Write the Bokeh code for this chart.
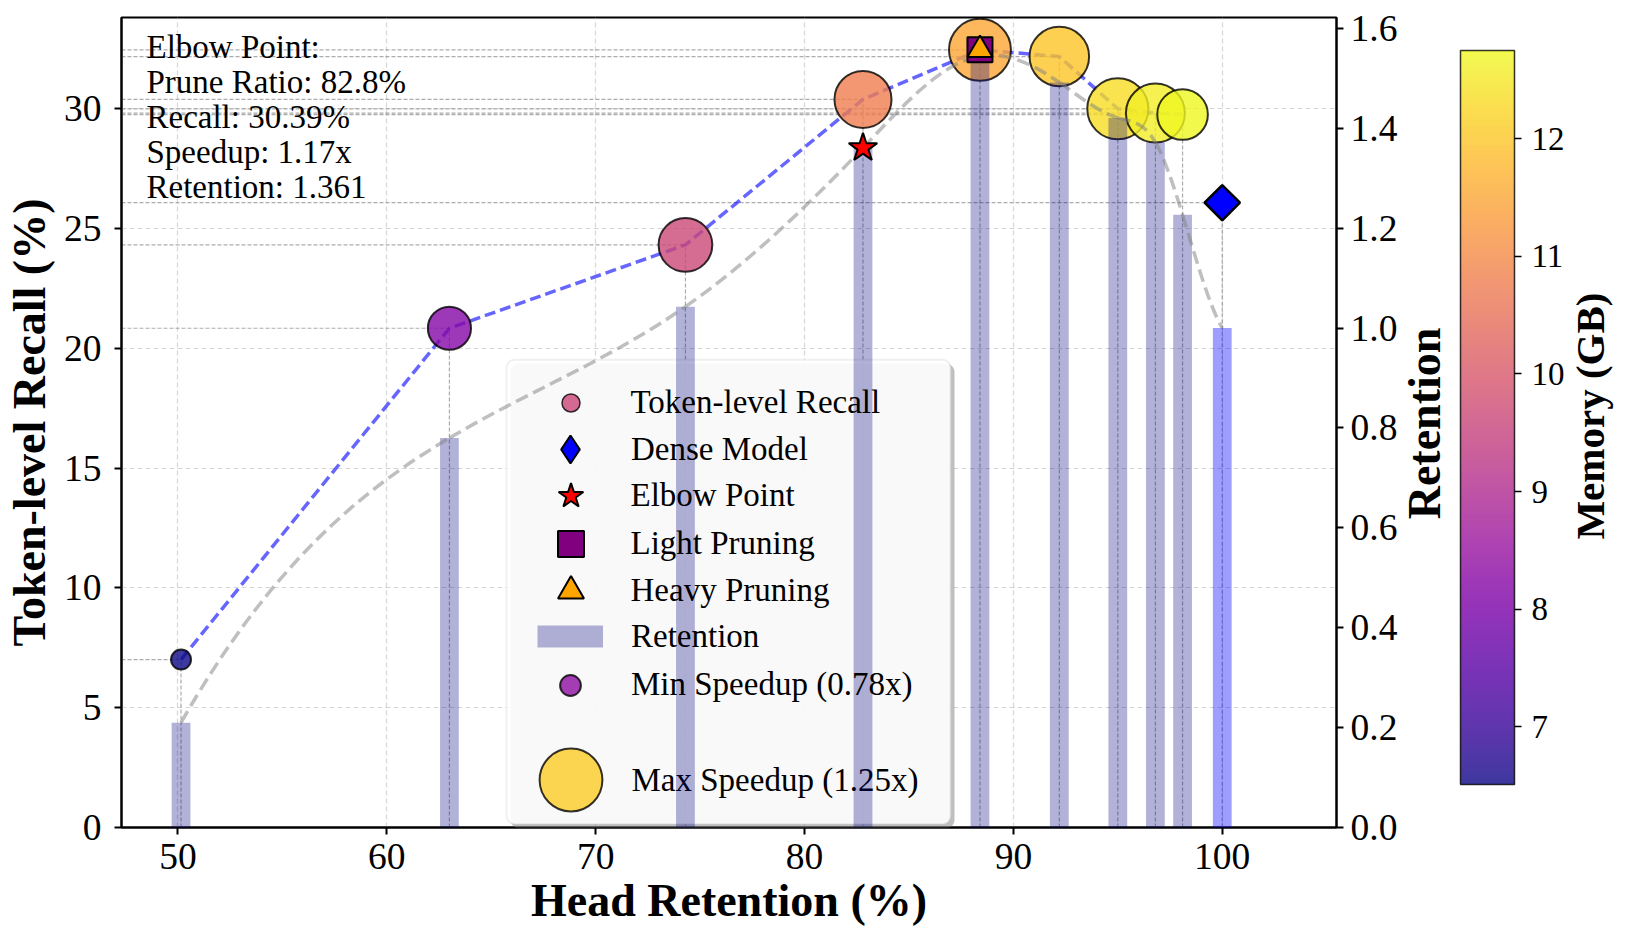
import numpy as np
from bokeh.plotting import figure
from bokeh.models import (Range1d, LinearAxis, FixedTicker, PrintfTickFormatter, Legend,
                          LegendItem, BoxAnnotation, Label, LinearColorMapper, ColorBar,
                          ColumnDataSource)
from bokeh.palettes import Plasma256
from bokeh.layouts import row
from bokeh.embed import file_html
from bokeh.resources import INLINE

# ---------------- data ----------------
head_retention = [50.15, 63.0, 74.3, 82.8, 88.4, 92.2, 95.0, 96.8, 98.1]
token_recall = [7.01, 20.84, 24.32, 30.39, 32.46, 32.18, 30.0, 29.82, 29.76]
retention = [0.210, 0.780, 1.043, 1.361, 1.545, 1.492, 1.421, 1.372, 1.227]
speedup = [0.78, 0.98, 1.12, 1.17, 1.25, 1.21, 1.235, 1.20, 1.075]
memory_gb = [6.51, 8.20, 9.65, 10.76, 11.49, 11.98, 12.35, 12.58, 12.75]
dense_head = [100.0]
dense_recall = [26.08]
dense_retention = [1.0]
elbow_idx = 3
light_idx = 4
heavy_idx = 4

x_ticks = [50, 60, 70, 80, 90, 100]
recall_ticks = [0, 5, 10, 15, 20, 25, 30]
retention_ticks = [0.0, 0.2, 0.4, 0.6, 0.8, 1.0, 1.2, 1.4, 1.6]
memory_ticks = [7, 8, 9, 10, 11, 12]

# ---------------- styling constants ----------------
FONT = "Liberation Serif"
XMIN, XMAX = 47.3, 105.47
YMAX = 33.81
RMAX = 1.622
MEM_MIN, MEM_MAX = min(memory_gb), max(memory_gb)
SIZE_MIN, SIZE_MAX = 20.0, 62.0
RIGHT_BORDER = 62

mapper = LinearColorMapper(palette=Plasma256, low=MEM_MIN, high=MEM_MAX)

sp = np.array(speedup)
frac = (sp - sp.min()) / (sp.max() - sp.min())
sizes = np.sqrt(SIZE_MIN ** 2 + frac * (SIZE_MAX ** 2 - SIZE_MIN ** 2))
i_min = int(np.argmin(sp))
i_max = int(np.argmax(sp))

p = figure(frame_width=1215, frame_height=810, title=None,
           x_range=Range1d(XMIN, XMAX), y_range=Range1d(0, YMAX),
           output_backend="svg", toolbar_location=None,
           min_border_left=112, min_border_right=RIGHT_BORDER, min_border_top=17,
           min_border_bottom=106,
           background_fill_color="white", border_fill_color="white")
p.extra_y_ranges = {"ret": Range1d(0, RMAX)}

# outline / grid
p.outline_line_color = "black"
p.outline_line_width = 2
p.xgrid.ticker = FixedTicker(ticks=x_ticks)
p.ygrid.ticker = FixedTicker(ticks=recall_ticks)
p.grid.grid_line_color = "#b0b0b0"
p.grid.grid_line_alpha = 0.5
p.grid.grid_line_dash = "5 3"
p.grid.grid_line_width = 1.2

# axes
p.xaxis.ticker = FixedTicker(ticks=x_ticks)
p.yaxis.ticker = FixedTicker(ticks=recall_ticks)
p.xaxis.axis_label = "Head Retention (%)"
p.yaxis.axis_label = "Token-level Recall (%)"

ax_r = LinearAxis(y_range_name="ret", ticker=FixedTicker(ticks=retention_ticks),
                  formatter=PrintfTickFormatter(format="%.1f"))
p.add_layout(ax_r, "right")

for ax in [p.xaxis[0], p.yaxis[0], ax_r]:
    ax.axis_line_width = 2
    ax.axis_line_color = "black"
    ax.major_tick_line_width = 2
    ax.major_tick_out = 7
    ax.major_tick_in = 0
    ax.minor_tick_line_color = None
    ax.major_label_text_font = FONT
    ax.major_label_text_font_size = "37.5px"
    ax.major_label_text_color = "black"
    ax.axis_label_text_font = FONT
    ax.axis_label_text_font_style = "bold"
    ax.axis_label_text_font_size = "46px"
    ax.axis_label_text_color = "black"

p.xaxis.major_label_standoff = 9
p.xaxis.axis_label_standoff = 3
p.yaxis.major_label_standoff = 13
p.yaxis.axis_label_standoff = 6
ax_r.major_label_standoff = 7

# reference dashed lines (horizontal to y-axis, vertical to x-axis)
xs_all = head_retention + dense_head
ys_all = token_recall + dense_recall
n_all = len(xs_all)
p.segment(x0=[XMIN] * n_all, y0=ys_all, x1=xs_all, y1=ys_all,
          line_color="gray", line_alpha=0.65, line_width=1.2, line_dash="4 2")
p.segment(x0=xs_all, y0=[0] * n_all, x1=xs_all, y1=ys_all,
          line_color="gray", line_alpha=0.65, line_width=1.2, line_dash="4 2")

# recall line
p.line(head_retention, token_recall, line_color="blue", line_alpha=0.6,
       line_width=3.5, line_dash="11 5")

# scatter points colored by memory, sized by speedup
src = ColumnDataSource(dict(x=head_retention, y=token_recall, mem=memory_gb, size=sizes))
p.scatter("x", "y", size="size", source=src,
          fill_color={"field": "mem", "transform": mapper}, fill_alpha=0.8,
          line_color="black", line_alpha=0.8, line_width=2)

# retention bars (drawn above legend like the twin axis)
p.vbar(x=head_retention, top=retention, width=0.9, y_range_name="ret",
       fill_color="navy", fill_alpha=0.3, line_color=None, level="overlay")
p.vbar(x=dense_head, top=dense_retention, width=0.9, y_range_name="ret",
       fill_color="blue", fill_alpha=0.38, line_color=None, level="overlay")


# smooth retention curve: not-a-knot cubic spline rendered as bezier segments
def spline_slopes(x, y):
    x = np.asarray(x, float)
    y = np.asarray(y, float)
    n = len(x)
    dx = np.diff(x)
    s = np.diff(y) / dx
    A = np.zeros((n, n))
    b = np.zeros(n)
    d = x[2] - x[0]
    A[0, 0] = dx[1]
    A[0, 1] = d
    b[0] = ((dx[0] + 2 * d) * dx[1] * s[0] + dx[0] ** 2 * s[1]) / d
    for i in range(1, n - 1):
        A[i, i - 1] = dx[i]
        A[i, i] = 2 * (dx[i - 1] + dx[i])
        A[i, i + 1] = dx[i - 1]
        b[i] = 3 * (dx[i] * s[i - 1] + dx[i - 1] * s[i])
    d = x[-1] - x[-3]
    A[-1, -2] = d
    A[-1, -1] = dx[-2]
    b[-1] = (dx[-1] ** 2 * s[-2] + (2 * d + dx[-1]) * dx[-2] * s[-1]) / d
    return np.linalg.solve(A, b)


cx = np.array(head_retention + dense_head)
cy = np.array(retention + dense_retention)
m = spline_slopes(cx, cy)
h = np.diff(cx)
p.bezier(x0=cx[:-1], y0=cy[:-1], x1=cx[1:], y1=cy[1:],
         cx0=cx[:-1] + h / 3, cy0=cy[:-1] + m[:-1] * h / 3,
         cx1=cx[1:] - h / 3, cy1=cy[1:] - m[1:] * h / 3,
         y_range_name="ret", line_color="gray", line_alpha=0.5, line_width=3.5,
         line_dash="13 6", level="overlay")

# special markers
r_elbow = p.scatter([head_retention[elbow_idx]], [retention[elbow_idx]], y_range_name="ret",
                    marker="star", size=30, fill_color="red", line_color="black",
                    line_width=2, level="overlay")
r_light = p.scatter([head_retention[light_idx]], [token_recall[light_idx]], marker="square",
                    size=25, fill_color="purple", line_color="black", line_width=2,
                    level="overlay")
r_heavy = p.scatter([head_retention[heavy_idx]], [token_recall[heavy_idx]], marker="triangle",
                    size=25, fill_color="orange", line_color="black", line_width=2,
                    level="overlay")
p.scatter(dense_head, dense_recall, marker="square", angle=np.pi / 4, size=25,
          fill_color="blue", line_color="black", line_width=2.5, level="overlay")

# elbow annotation
elbow_text = (f"Elbow Point:\nPrune Ratio: {head_retention[elbow_idx]:.1f}%\n"
              f"Recall: {token_recall[elbow_idx]:.2f}%\nSpeedup: {speedup[elbow_idx]:.2f}x\n"
              f"Retention: {retention[elbow_idx]:.3f}")
p.add_layout(Label(x=25, y=799, x_units="screen", y_units="screen", text=elbow_text,
                   text_font=FONT, text_font_size="33px", text_baseline="top",
                   text_align="left", text_line_height=0.975, text_color="black"))

# ---------------- legend ----------------
p.add_layout(BoxAnnotation(left=389, right=833, top=463.7, bottom=-0.5,
                           left_units="screen", right_units="screen",
                           top_units="screen", bottom_units="screen",
                           fill_color="gray", fill_alpha=0.5, line_color=None,
                           border_radius=8, level="annotation"), "center")
p.add_layout(BoxAnnotation(left=385, right=829, top=467.7, bottom=3.5,
                           left_units="screen", right_units="screen",
                           top_units="screen", bottom_units="screen",
                           fill_color="white", fill_alpha=0.9, line_color="#cccccc",
                           line_width=2, border_radius=8, level="annotation"), "center")

pink = Plasma256[int(0.5 * 255)]
purp = Plasma256[int(0.3 * 255)]
yell = Plasma256[int(0.9 * 255)]

# legend-only handles (hidden on the plot, shown in the legend)
r_recall = p.scatter(head_retention, token_recall, marker="circle", fill_color=pink,
                     fill_alpha=0.8, line_color="black", line_alpha=0.8, line_width=1.5,
                     visible=False)
r_dense = p.scatter(dense_head, dense_recall, marker="diamond", fill_color="blue",
                    line_color="black", line_width=2, visible=False)
r_ret = p.line(head_retention, retention, y_range_name="ret", line_color="navy",
               line_alpha=0.3, line_width=22, visible=False)
r_min = p.scatter([head_retention[i_min]], [token_recall[i_min]], marker="circle",
                  fill_color=purp, fill_alpha=0.8, line_color="black", line_alpha=0.8,
                  line_width=2, visible=False)
r_max = p.scatter([head_retention[i_max]], [token_recall[i_max]], marker="circle",
                  fill_color=yell, fill_alpha=0.8, line_color="black", line_alpha=0.8,
                  line_width=2, visible=False)


def add_legend(label, rend, gw, gh, loc, standoff):
    lg = Legend(items=[LegendItem(label=label, renderers=[rend])], location=loc,
                glyph_width=gw, glyph_height=gh, label_standoff=standoff, spacing=0,
                padding=0, margin=0, border_line_color=None, background_fill_alpha=0,
                label_text_font=FONT, label_text_font_size="33px",
                label_text_color="black", label_height=gh, inactive_fill_alpha=0)
    p.add_layout(lg, "center")


add_legend("Token-level Recall", r_recall, 45, 45, (426.5, 402.5), 38)
add_legend("Dense Model", r_dense, 70, 70, (414, 343), 26)
add_legend("Elbow Point", r_elbow, 65, 65, (416.5, 299), 28)
add_legend("Light Pruning", r_light, 65, 65, (416.5, 251.5), 28)
add_legend("Heavy Pruning", r_heavy, 65, 65, (416.5, 204), 28)
add_legend("Retention", r_ret, 66, 40, (416, 171), 28)
add_legend(f"Min Speedup ({speedup[i_min]:.2f}x)", r_min, 52, 52, (423, 116.5), 35)
add_legend(" ", r_max, 157, 157, (370.5, -31), 0)
p.add_layout(Label(x=510, y=47.5, x_units="screen", y_units="screen",
                   text=f"Max Speedup ({speedup[i_max]:.2f}x)", text_font=FONT,
                   text_font_size="33px", text_baseline="middle", text_align="left",
                   text_color="black"))

# ---------------- side panel: titles + memory colour bar ----------------
F0 = 1335 + RIGHT_BORDER + 4  # page x where the side figure's frame actually starts
p2 = figure(frame_width=219, frame_height=810, title=None,
            x_range=Range1d(0, 1), y_range=Range1d(0, 1),
            x_axis_location=None, y_axis_location=None,
            output_backend="svg", toolbar_location=None,
            min_border_left=0, min_border_right=0, min_border_top=17, min_border_bottom=106,
            background_fill_color="white", border_fill_color="white")
p2.outline_line_color = None
p2.grid.visible = False

p2.add_layout(Label(x=1424.5 - F0, y=404, x_units="screen", y_units="screen",
                    text="Retention", angle=np.pi / 2, text_align="center",
                    text_baseline="middle", text_font=FONT, text_font_style="bold",
                    text_font_size="46px", text_color="black"))
p2.add_layout(Label(x=1590 - F0, y=411.4, x_units="screen", y_units="screen",
                    text="Memory (GB)", angle=np.pi / 2, text_align="center",
                    text_baseline="middle", text_font=FONT, text_font_style="bold",
                    text_font_size="41px", text_color="black"))

cb = ColorBar(color_mapper=mapper, location=(1461 - F0, 43), width=54, height=734,
              padding=0, margin=0, scale_alpha=0.8,
              ticker=FixedTicker(ticks=memory_ticks),
              major_tick_in=0, major_tick_out=7, major_tick_line_color="black",
              major_tick_line_width=1.5, minor_tick_line_color=None,
              label_standoff=10, major_label_text_font=FONT,
              major_label_text_font_size="33px", major_label_text_color="black",
              bar_line_color="black", bar_line_width=1.5,
              background_fill_alpha=0, border_line_color=None, title=None)
p2.add_layout(cb, "center")

layout = row(p, p2)
open("out.html", "w").write(file_html(layout, INLINE))
